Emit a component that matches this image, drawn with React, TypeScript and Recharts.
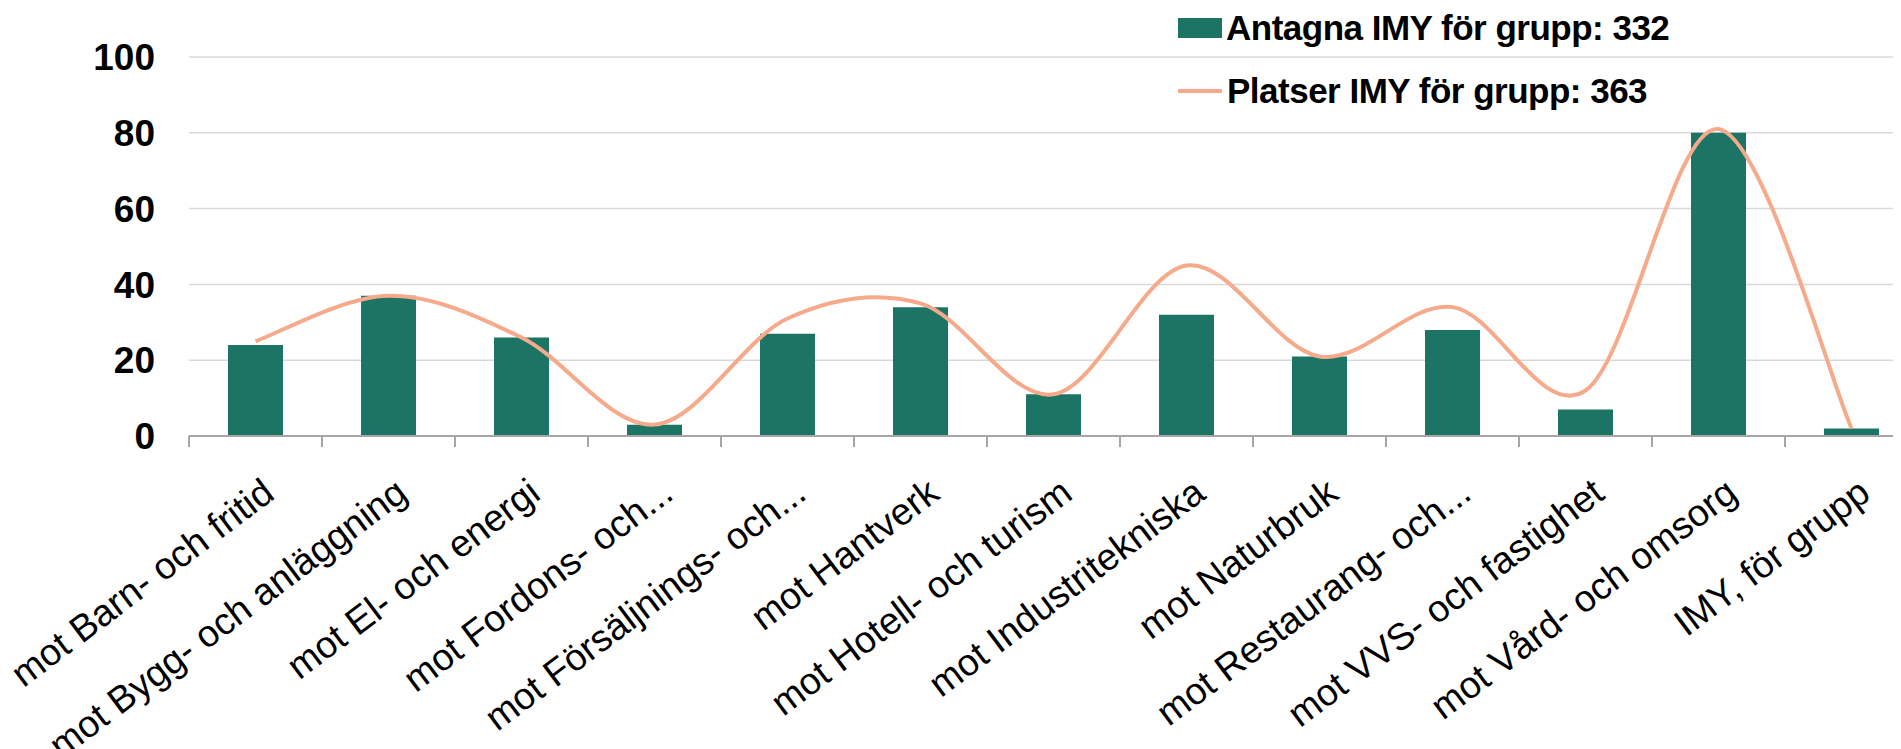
import { ComposedChart, Bar, Line, XAxis, YAxis, CartesianGrid, Legend } from 'recharts'

const CATEGORIES = [
  'mot Barn- och fritid',
  'mot Bygg- och anläggning',
  'mot El- och energi',
  'mot Fordons- och...',
  'mot Försäljnings- och...',
  'mot Hantverk',
  'mot Hotell- och turism',
  'mot Industritekniska',
  'mot Naturbruk',
  'mot Restaurang- och...',
  'mot VVS- och fastighet',
  'mot Vård- och omsorg',
  'IMY, för grupp'
]

// Antagna (bars) and Platser (smoothed line)
const ANTAGNA = [24, 37, 26, 3, 27, 34, 11, 32, 21, 28, 7, 80, 2]
const PLATSER = [25, 37, 26, 3, 31, 35, 11, 45, 21, 34, 12, 81, 2]

const Y_TICKS = [0, 20, 40, 60, 80, 100]

const ANTAGNA_NAME = 'Antagna IMY för grupp: 332'
const PLATSER_NAME = 'Platser IMY för grupp: 363'

const COLORS = {
  bar: '#1c7464',
  line: '#f5aa8b',
  axis: '#a6a6a6',
  grid: '#d9d9d9'
}

const FONT = '"Liberation Sans", Arial, sans-serif'

const data = CATEGORIES.map((name, i) => ({
  name,
  antagna: ANTAGNA[i],
  platser: PLATSER[i]
}))

// Excel-like smoothing (Catmull-Rom through every point)
const smoothCurve: any = (context: any) => {
  let pts: number[][] = []
  return {
    areaStart() {},
    areaEnd() {},
    lineStart() {
      pts = []
    },
    point(x: number, y: number) {
      pts.push([+x, +y])
    },
    lineEnd() {
      if (!pts.length) return
      context.moveTo(pts[0][0], pts[0][1])
      for (let i = 0; i < pts.length - 1; i++) {
        const p0 = pts[Math.max(i - 1, 0)]
        const p1 = pts[i]
        const p2 = pts[i + 1]
        const p3 = pts[Math.min(i + 2, pts.length - 1)]
        context.bezierCurveTo(
          p1[0] + (p2[0] - p0[0]) / 6,
          p1[1] + (p2[1] - p0[1]) / 6,
          p2[0] - (p3[0] - p1[0]) / 6,
          p2[1] - (p3[1] - p1[1]) / 6,
          p2[0],
          p2[1]
        )
      }
    }
  }
}

const CategoryTick = (props: any) => {
  const { x, y, payload } = props
  const half = payload?.offset ?? 0
  return (
    <g transform={`translate(${x},${y})`}>
      <line x1={-half} x2={-half} y1={0} y2={11} stroke={COLORS.axis} strokeWidth={2} />
      <text
        x={13}
        y={51}
        dy="0.35em"
        textAnchor="end"
        transform="rotate(-37 13 51)"
        fontSize={37.5}
        fontFamily={FONT}
        fill="#000"
      >
        {payload.value}
      </text>
    </g>
  )
}

const LegendContent = () => (
  <div style={{ fontFamily: FONT, fontWeight: 700, fontSize: 35, letterSpacing: -0.5, color: '#000', lineHeight: 'normal' }}>
    <div style={{ display: 'flex', alignItems: 'center', height: 40 }}>
      <span style={{ display: 'inline-block', width: 44, height: 20, background: COLORS.bar, marginRight: 4 }} />
      <span>{ANTAGNA_NAME}</span>
    </div>
    <div style={{ display: 'flex', alignItems: 'center', height: 40, marginTop: 23 }}>
      <span style={{ display: 'inline-block', width: 44, height: 4, background: COLORS.line, marginRight: 5 }} />
      <span>{PLATSER_NAME}</span>
    </div>
  </div>
)

export default function App() {
  return (
    <div style={{ width: 1893, height: 741, overflow: 'hidden', fontFamily: FONT }}>
      <ComposedChart
        width={1910}
        height={741}
        data={data}
        margin={{ top: 49, right: 0, bottom: 0, left: 0 }}
      >
        <CartesianGrid vertical={false} stroke={COLORS.grid} strokeWidth={1.5} />
        <XAxis
          dataKey="name"
          interval={0}
          height={313}
          tickLine={false}
          tickSize={0}
          tickMargin={0}
          axisLine={{ stroke: COLORS.axis, strokeWidth: 2 }}
          tick={<CategoryTick />}
        />
        <YAxis
          domain={[0, 100]}
          ticks={Y_TICKS}
          width={181}
          axisLine={false}
          tickLine={false}
          tickSize={0}
          tickMargin={34}
          tick={{ fontSize: 37, fontWeight: 700, fill: '#000', fontFamily: FONT }}
        />
        <Legend
          layout="horizontal"
          verticalAlign="middle"
          align="center"
          wrapperStyle={{ top: 0, left: 1170, width: 'auto' }}
          content={<LegendContent />}
        />
        <Bar dataKey="antagna" name={ANTAGNA_NAME} fill={COLORS.bar} barSize={55} isAnimationActive={false} />
        <Line
          dataKey="platser"
          name={PLATSER_NAME}
          type={smoothCurve}
          stroke={COLORS.line}
          strokeWidth={4}
          dot={false}
          activeDot={false}
          isAnimationActive={false}
        />
      </ComposedChart>
    </div>
  )
}
